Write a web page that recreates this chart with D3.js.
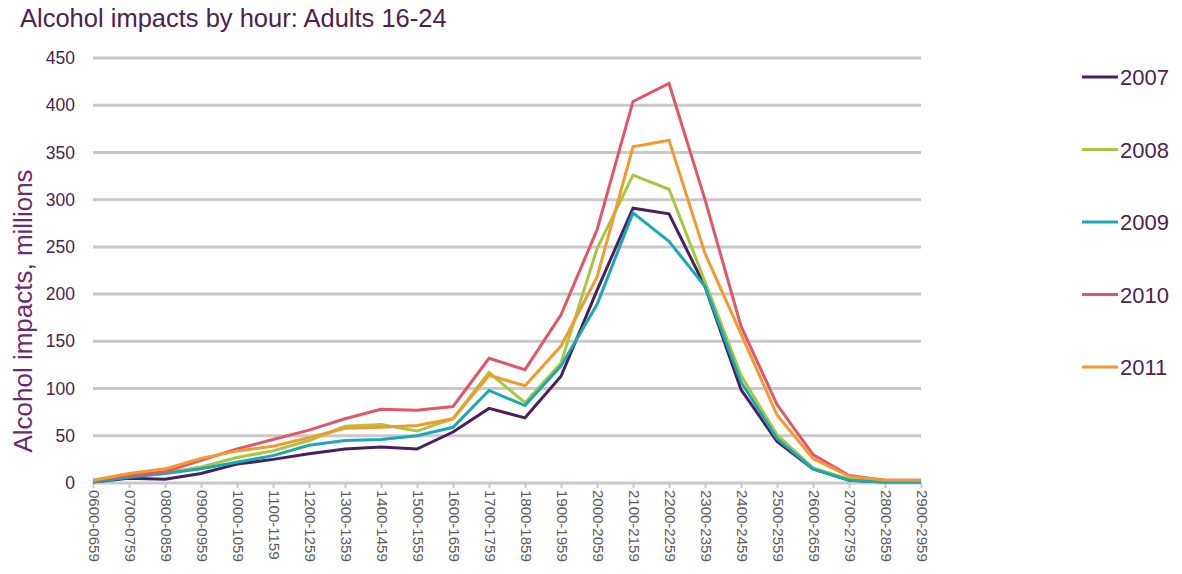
<!DOCTYPE html>
<html><head><meta charset="utf-8">
<script src="https://cdn.jsdelivr.net/npm/d3@7"></script>
<style>body{margin:0;background:#fff;} svg{display:block;font-family:"Liberation Sans",Arial,sans-serif;}</style>
</head><body>
<svg id="chart" width="1182" height="574"></svg>
<script>
const categories = ["0600-0659","0700-0759","0800-0859","0900-0959","1000-1059","1100-1159","1200-1259","1300-1359","1400-1459","1500-1559","1600-1659","1700-1759","1800-1859","1900-1959","2000-2059","2100-2159","2200-2259","2300-2359","2400-2459","2500-2559","2600-2659","2700-2759","2800-2859","2900-2959"];
const years = ["2007","2008","2009","2010","2011"];
const colors = ["#4b1f5e","#a5c83c","#1aa7b8","#e0566a","#f39a2e"];
const v2007 = [1,5,4,10,20,25,31,36,38,36,54,79,69,113,204,291,285,208,99,44,15,3,1,1];
const v2008 = [2,7,11,17,27,34,45,60,62,55,68,117,85,127,248,326,311,213,114,51,16,4,1,1];
const v2009 = [1,6,10,15,22,29,40,45,46,50,59,98,82,124,189,286,256,208,107,47,15,3,1,1];
const v2010 = [3,8,12,24,36,46,56,68,78,77,81,132,120,178,268,404,423,300,166,83,30,8,3,3];
const v2011 = [3,10,15,26,34,39,48,58,59,61,68,114,103,145,218,356,363,243,158,72,26,7,3,3];
const yTicks = [0,50,100,150,200,250,300,350,400,450];
const series = [v2007,v2008,v2009,v2010,v2011];

const svg = d3.select("#chart");
const x = d3.scalePoint().domain(categories).range([93, 921]);
const y = d3.scaleLinear().domain([0,450]).range([483, 58]);

// title
svg.append("text").attr("x", 20).attr("y", 27).attr("font-size", 25.5).attr("fill", "#4d2150")
  .text("Alcohol impacts by hour: Adults 16-24");

// gridlines
svg.append("g").selectAll("line").data(yTicks).join("line")
  .attr("x1", 93).attr("x2", 921).attr("y1", d => y(d)).attr("y2", d => y(d))
  .attr("stroke", "#c9c9c9").attr("stroke-width", 3);

// y axis labels
const yAxis = d3.axisLeft(y).tickValues(yTicks).tickSize(0).tickPadding(18);
const gy = svg.append("g").attr("transform", "translate(93,0)").call(yAxis);
gy.select(".domain").remove();
gy.selectAll("text").attr("font-size", 17.5).attr("fill", "#4a1f4f").attr("font-family", "Liberation Sans, Arial, sans-serif");

// x axis
const xAxis = d3.axisBottom(x).tickSize(5).tickPadding(0);
const gx = svg.append("g").attr("transform", "translate(0,483)").call(xAxis);
gx.select(".domain").remove();
gx.selectAll(".tick line").attr("stroke", "#c9c9c9").attr("stroke-width", 2);
gx.selectAll("text").attr("font-size", 15).attr("fill", "#5a5a5a")
  .attr("font-family", "Liberation Sans, Arial, sans-serif")
  .attr("text-anchor", "start").attr("dy", null)
  .attr("transform", "translate(-5,7) rotate(90)").attr("x", 0).attr("y", 0);

// y title
svg.append("text").attr("transform", "translate(32,311) rotate(-90)").attr("text-anchor", "middle")
  .attr("font-size", 26).attr("fill", "#6e2a6e").text("Alcohol impacts, millions");

// lines
const line = d3.line().x((d,i) => x(categories[i])).y(d => y(d));
svg.append("g").selectAll("path").data(series).join("path")
  .attr("d", d => line(d)).attr("fill", "none")
  .attr("stroke", (d,i) => colors[i]).attr("stroke-width", 3).attr("stroke-linejoin", "miter");

// legend
const lg = svg.append("g").selectAll("g").data(years).join("g")
  .attr("transform", (d,i) => `translate(1082,${77 + i*72.5})`);
lg.append("line").attr("x1", 0).attr("x2", 36).attr("y1", 0).attr("y2", 0)
  .attr("stroke", (d,i) => colors[i]).attr("stroke-width", 3);
lg.append("text").attr("x", 38).attr("y", 8).attr("font-size", 22).attr("fill", "#4d2150").text(d => d);
</script>
</body></html>
